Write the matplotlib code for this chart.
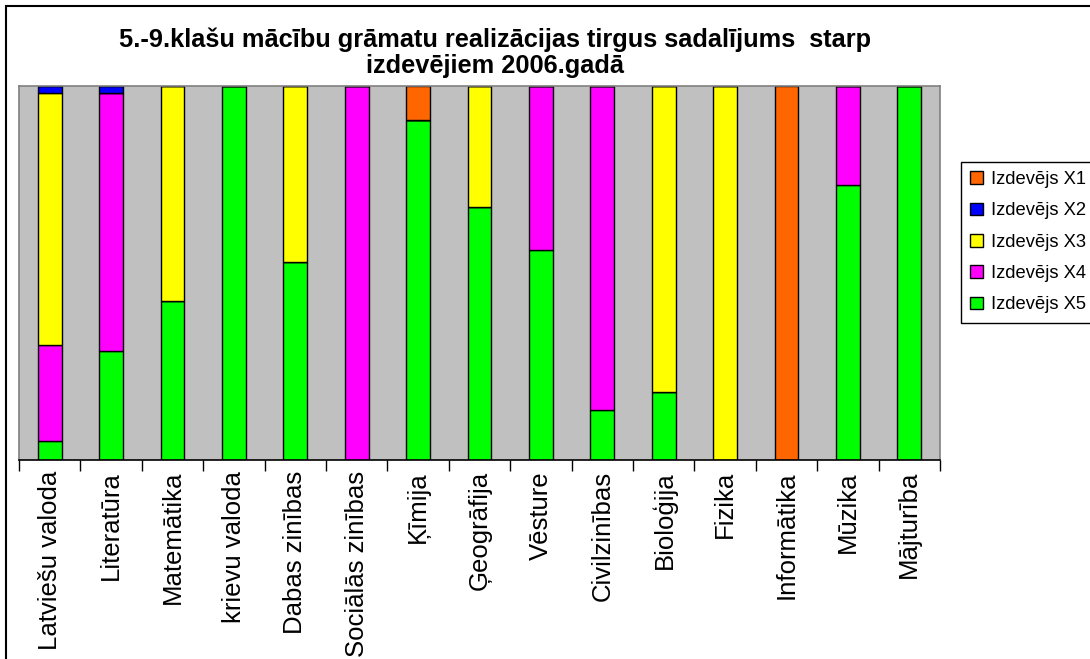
import matplotlib
matplotlib.use("Agg")
import matplotlib.pyplot as plt
from matplotlib.patches import Rectangle, Patch
import numpy as np

plt.rcParams['font.family'] = ['Liberation Sans', 'DejaVu Sans']

categories = ["Latviešu valoda", "Literatūra", "Matemātika", "krievu valoda",
              "Dabas zinības", "Sociālās zinības", "Ķīmija", "Ģeogrāfija",
              "Vēsture", "Civilzinības", "Bioloģija", "Fizika", "Informātika",
              "Mūzika", "Mājturība"]
series_names = ["Izdevējs X1", "Izdevējs X2", "Izdevējs X3", "Izdevējs X4", "Izdevējs X5"]
x1 = [0, 0, 0, 0, 0, 0, 9.1, 0, 0, 0, 0, 0, 100, 0, 0]
x2 = [1.95, 1.95, 0, 0, 0, 0, 0, 0, 0, 0, 0, 0, 0, 0, 0]
x3 = [67.3, 0, 57.5, 0, 47.0, 0, 0, 32.4, 0, 0, 81.7, 100, 0, 0, 0]
x4 = [25.6, 68.8, 0, 0, 0, 100, 0, 0, 43.9, 86.7, 0, 0, 0, 26.5, 0]
x5 = [5.2, 29.2, 42.5, 100, 53.0, 0, 90.9, 67.6, 56.1, 13.3, 18.3, 0, 0, 73.5, 100]
colors = ["#FF6600", "#0000FF", "#FFFF00", "#FF00FF", "#00FF00"]

W, H = 1090, 659
fig = plt.figure(figsize=(W / 100, H / 100), dpi=100)
fig.patch.set_facecolor("white")

# chart border
fig.add_artist(Rectangle((6 / W, -0.1), 1.2, 1 - 6 / H + 0.1, transform=fig.transFigure,
                         fill=False, edgecolor="black", linewidth=1.5, clip_on=False))

left, right, top, bottom = 19, 940, 86, 460
ax = fig.add_axes([left / W, 1 - bottom / H, (right - left) / W, (bottom - top) / H])
ax.set_facecolor("#C0C0C0")

data = [x1, x2, x3, x4, x5]
data_arr = np.array(data, dtype=float)
totals = data_arr.sum(axis=0)
frac = data_arr / totals * 100
xpos = np.arange(len(categories))
base = np.zeros(len(categories))
for i in [4, 3, 2, 1, 0]:
    vals = frac[i]
    ax.bar(xpos, vals, bottom=base, width=0.39, color=colors[i], edgecolor="black",
           linewidth=1.0)
    base += vals

ax.set_xlim(-0.5, len(categories) - 0.5)
ax.set_ylim(0, 100)
ax.set_yticks([])
ax.set_xticks(np.arange(-0.5, len(categories) + 0.5, 1))
ax.set_xticklabels([])
ax.set_xticks(xpos, minor=True)
ax.set_xticklabels(categories, minor=True, rotation=90, fontsize=18.5, va="top", ha="center")
ax.tick_params(axis="x", which="major", length=8, width=1, direction="out", color="black")
ax.tick_params(axis="x", which="minor", length=0, pad=8)
for s in ["left", "top", "right"]:
    ax.spines[s].set_color("#808080")
    ax.spines[s].set_linewidth(1.2)
ax.spines["bottom"].set_color("black")
ax.spines["bottom"].set_linewidth(1.2)

fig.text(495 / W, 1 - 40 / H, "5.-9.klašu mācību grāmatu realizācijas tirgus sadalījums  starp",
         ha="center", va="center", fontsize=18.3, fontweight="bold")
fig.text(495 / W, 1 - 66 / H, "izdevējiem 2006.gadā",
         ha="center", va="center", fontsize=18.3, fontweight="bold")

leg_handles = [Patch(facecolor=colors[i], edgecolor="black", linewidth=1) for i in range(5)]
leg = fig.legend(leg_handles, series_names, loc="upper left",
                 bbox_to_anchor=(961 / W, 1 - 162 / H), fontsize=13.2,
                 frameon=True, fancybox=False, edgecolor="black", framealpha=1,
                 handlelength=0.7, handleheight=0.7, handletextpad=0.45,
                 labelspacing=0.78, borderpad=0.5, borderaxespad=0)
leg.get_frame().set_linewidth(1.0)

fig.savefig("out.png", dpi=100)
